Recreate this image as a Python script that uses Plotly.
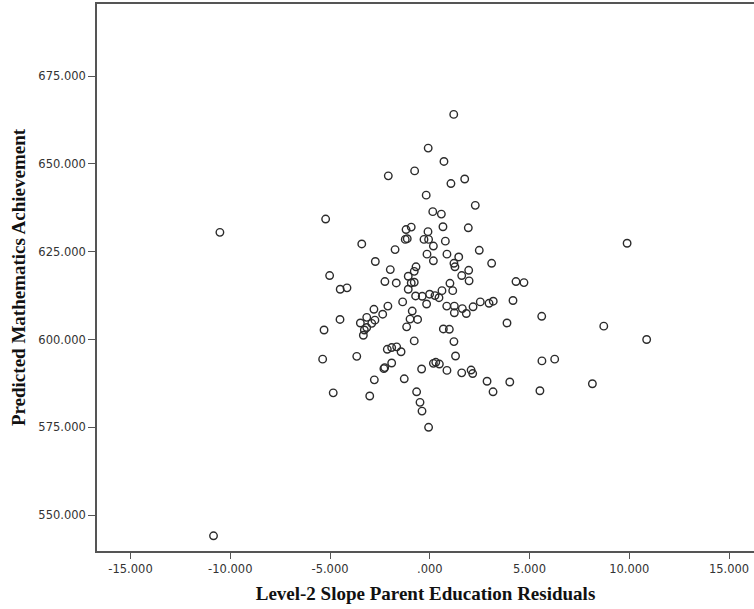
import plotly.graph_objects as go

# Level-2 slope residuals (parent education) per school
slope_residuals = [
    1.20, -0.08, 0.71, -2.08, -0.76, 1.06, 1.75, -0.18, 2.28, -5.22,
    0.15, 0.58, -0.93, -1.19, -0.09, 0.66, 1.93, -3.41, -1.23, -1.13,
    -0.29, -0.06, 0.78, 0.18, -1.74, 2.48, -0.14, 0.18, 0.86, 1.45,
    1.21, 1.26, 3.10, -2.73, -1.98, -0.69, -0.78, -5.02, -2.25, -1.68,
    -1.08, -0.93, -0.78, 1.60, 1.95, 1.97, 1.01, 1.15, 4.32, 4.72,
    -4.49, -4.15, -1.08, -0.71, -0.38, -0.01, 0.26, 0.46, 0.61, -0.16,
    -1.36, 0.85, 1.23, 1.23, 1.63, 1.83, 2.17, 2.53, 2.97, 3.18,
    4.17, 3.87, -2.10, -2.80, -2.36, -3.16, -2.75, -3.48, -4.50, -5.30,
    -3.16, -3.28, -3.33, -2.91, -0.88, -0.99, -0.61, -1.16, 0.68, 0.98,
    -0.78, 1.21, -3.66, -5.37, -2.13, -1.91, -1.66, -1.44, 1.29, -2.30,
    -2.26, -1.91, -2.78, -1.28, -0.41, 0.18, 0.30, 0.48, 0.86, 1.60,
    2.07, 2.15, 2.87, 3.17, 4.01, -4.84, -3.01, -0.66, -0.49, -0.39,
    -0.06, -10.52, -10.84, 9.89, 5.61, 8.72, 10.87, 5.62, 6.26, 5.52,
    8.15,
]

# Predicted mathematics achievement per school
predicted_achievement = [
    664.1, 654.5, 650.7, 646.6, 648.0, 644.4, 645.7, 641.1, 638.2, 634.3,
    636.4, 635.7, 632.0, 631.3, 630.7, 632.1, 631.8, 627.2, 628.5, 628.7,
    628.5, 628.5, 628.0, 626.6, 625.6, 625.4, 624.3, 622.4, 624.3, 623.5,
    621.7, 620.7, 621.7, 622.2, 619.9, 620.7, 619.4, 618.2, 616.5, 616.1,
    618.0, 616.1, 616.3, 618.2, 619.7, 616.7, 616.0, 613.9, 616.5, 616.2,
    614.3, 614.7, 614.3, 612.4, 612.3, 612.9, 612.5, 611.9, 613.9, 610.1,
    610.7, 609.5, 609.5, 607.6, 608.8, 607.4, 609.3, 610.7, 610.3, 610.9,
    611.1, 604.7, 609.5, 608.6, 607.2, 606.3, 605.5, 604.7, 605.7, 602.7,
    603.4, 602.7, 601.2, 604.6, 608.1, 605.8, 605.7, 603.6, 603.0, 602.9,
    599.6, 599.4, 595.2, 594.4, 597.2, 597.7, 597.9, 596.5, 595.3, 591.7,
    592.0, 593.3, 588.5, 588.8, 591.6, 593.2, 593.5, 593.0, 591.2, 590.5,
    591.3, 590.3, 588.1, 585.1, 587.9, 584.8, 583.9, 585.1, 582.1, 579.6,
    575.0, 630.5, 544.1, 627.4, 606.6, 603.8, 600.0, 593.9, 594.4, 585.4,
    587.4,
]

x_tick_values = [-15, -10, -5, 0, 5, 10, 15]
x_tick_labels = ["-15.000", "-10.000", "-5.000", ".000", "5.000", "10.000", "15.000"]
y_tick_values = [550, 575, 600, 625, 650, 675]
y_tick_labels = ["550.000", "575.000", "600.000", "625.000", "650.000", "675.000"]

x_title = "Level-2 Slope Parent Education Residuals"
y_title = "Predicted Mathematics Achievement"

axis_color = "#555555"
tick_font = dict(family="DejaVu Sans", size=11.5, color="#333333")
title_font = dict(family="Liberation Serif", size=19, color="#111111")

fig = go.Figure(
    go.Scatter(
        x=slope_residuals,
        y=predicted_achievement,
        mode="markers",
        marker=dict(
            symbol="circle-open",
            size=7.5,
            color="#2b2b2b",
            line=dict(width=1.4, color="#2b2b2b"),
        ),
        hoverinfo="x+y",
    )
)

fig.update_xaxes(
    range=[-16.68, 16.25],
    tickmode="array",
    tickvals=x_tick_values,
    ticktext=x_tick_labels,
    ticks="outside",
    ticklen=6,
    tickwidth=1.3,
    tickcolor=axis_color,
    tickfont=tick_font,
    showline=True,
    linecolor=axis_color,
    linewidth=1.6,
    mirror=True,
    showgrid=False,
    zeroline=False,
    title=dict(text="<b>" + x_title + "</b>", font=title_font, standoff=12),
)

fig.update_yaxes(
    range=[539.77, 695.53],
    tickmode="array",
    tickvals=y_tick_values,
    ticktext=y_tick_labels,
    ticks="outside",
    ticklen=7,
    tickwidth=1.3,
    tickcolor=axis_color,
    tickfont=tick_font,
    showline=True,
    linecolor=axis_color,
    linewidth=1.6,
    showgrid=False,
    zeroline=False,
    title=dict(text="<b>" + y_title + "</b>", font=title_font, standoff=8),
)

fig.update_layout(
    width=754,
    height=609,
    margin=dict(l=97, r=0, t=4, b=58, autoexpand=False),
    paper_bgcolor="white",
    plot_bgcolor="white",
    showlegend=False,
)

fig.write_html("out.html")
